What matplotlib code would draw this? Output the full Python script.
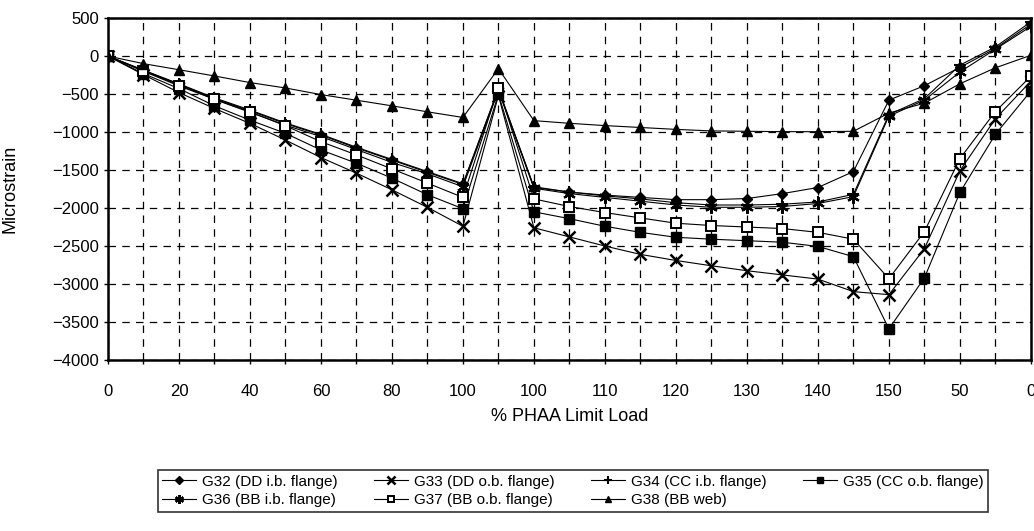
import numpy as np
import matplotlib
matplotlib.use("Agg")
import matplotlib.pyplot as plt

plt.rcParams['font.family'] = ['Liberation Sans', 'DejaVu Sans']

# load steps (27 readings), only every other one is labelled on the axis
step_labels = ["0", "10", "20", "30", "40", "50", "60", "70", "80", "90", "100",
               "0", "100", "105", "110", "115", "120", "125", "130", "135", "140",
               "145", "150", "100", "50", "25", "0"]

# strain gauge readings (microstrain)
g32 = [0, -190, -370, -560, -720, -890, -1040, -1210, -1370, -1530, -1690,
       -430, -1730, -1790, -1830, -1860, -1890, -1890, -1875, -1810, -1730,
       -1520, -580, -390, -150, 100, 420]
g33 = [0, -245, -480, -690, -886, -1105, -1336, -1541, -1760, -1991, -2240,
       -520, -2260, -2380, -2500, -2610, -2690, -2760, -2825, -2880, -2935,
       -3100, -3140, -2535, -1510, -825, -330]
g34 = [0, -185, -365, -550, -710, -880, -1030, -1200, -1360, -1520, -1680,
       -440, -1720, -1790, -1840, -1880, -1930, -1960, -1960, -1950, -1920,
       -1820, -770, -560, -120, 120, 450]
g35 = [0, -231, -428, -655, -843, -1017, -1236, -1410, -1607, -1825, -2009,
       -500, -2050, -2140, -2240, -2320, -2385, -2410, -2430, -2450, -2505,
       -2640, -3590, -2920, -1795, -1030, -460]
g36 = [0, -195, -380, -570, -740, -910, -1060, -1230, -1400, -1550, -1720,
       -450, -1740, -1810, -1860, -1910, -1960, -1990, -1990, -1980, -1940,
       -1850, -790, -580, -210, 90, 390]
g37 = [0, -200, -393, -568, -734, -917, -1127, -1301, -1485, -1672, -1860,
       -419, -1880, -1980, -2060, -2130, -2200, -2230, -2250, -2270, -2320,
       -2410, -2930, -2310, -1350, -730, -265]
g38 = [0, -100, -180, -262, -349, -420, -507, -581, -655, -734, -808,
       -166, -850, -885, -915, -940, -965, -985, -990, -995, -995,
       -990, -750, -620, -365, -155, 10]

x = np.arange(len(step_labels))

fig = plt.figure(figsize=(10.34, 5.31), dpi=100)
ax = fig.add_axes([0.1044, 0.322, 0.8926, 0.644])

star = (6, 2, 0)
lw = 0.8
ms = 6.5
h32, = ax.plot(x, g32, color='black', lw=lw, marker='D', ms=5.5, mfc='black', label='G32 (DD i.b. flange)')
h33, = ax.plot(x, g33, color='black', lw=lw, marker='x', ms=8, mew=1.8, label='G33 (DD o.b. flange)')
h34, = ax.plot(x, g34, color='black', lw=lw, marker='+', ms=8, mew=1.5, label='G34 (CC i.b. flange)')
h35, = ax.plot(x, g35, color='black', lw=lw, marker='s', ms=ms, mfc='black', label='G35 (CC o.b. flange)')
h36, = ax.plot(x, g36, color='black', lw=lw, marker=star, ms=9, mew=1.6, label='G36 (BB i.b. flange)')
h37, = ax.plot(x, g37, color='black', lw=lw, marker='s', ms=ms, mfc='white', mew=1.4, label='G37 (BB o.b. flange)')
h38, = ax.plot(x, g38, color='black', lw=lw, marker='^', ms=7, mfc='black', label='G38 (BB web)')

ax.set_xlim(0, len(step_labels) - 1)
ax.set_ylim(-4000, 500)
ax.set_yticks(np.arange(-4000, 501, 500))
ax.set_xticks(x)
ax.set_xticklabels([lab if i % 2 == 0 else "" for i, lab in enumerate(step_labels)])
ax.tick_params(axis='both', labelsize=12, length=3, width=1, color='black')
ax.tick_params(axis='x', pad=14)

ax.grid(True, color='black', linestyle=(0, (6, 5)), linewidth=0.9)
ax.set_axisbelow(True)
for side in ['left', 'bottom', 'top', 'right']:
    ax.spines[side].set_linewidth(1.8)
    ax.spines[side].set_color('black')

ax.set_ylabel('Microstrain', fontsize=13, labelpad=24)
ax.set_xlabel('% PHAA Limit Load', fontsize=13, labelpad=7)

handles = [h32, h36, h33, h37, h34, h38, h35]
leg = fig.legend(handles=handles, labels=[h.get_label() for h in handles],
                 ncol=4, loc='lower left', bbox_to_anchor=(0.145, 0.022),
                 fontsize=11, frameon=True, fancybox=False,
                 edgecolor='black', handlelength=2.2, handletextpad=0.4,
                 borderpad=0.3, labelspacing=0.3, columnspacing=2.4,
                 markerscale=0.7)
leg.get_frame().set_linewidth(1.2)

fig.savefig('out.png', dpi=100)
